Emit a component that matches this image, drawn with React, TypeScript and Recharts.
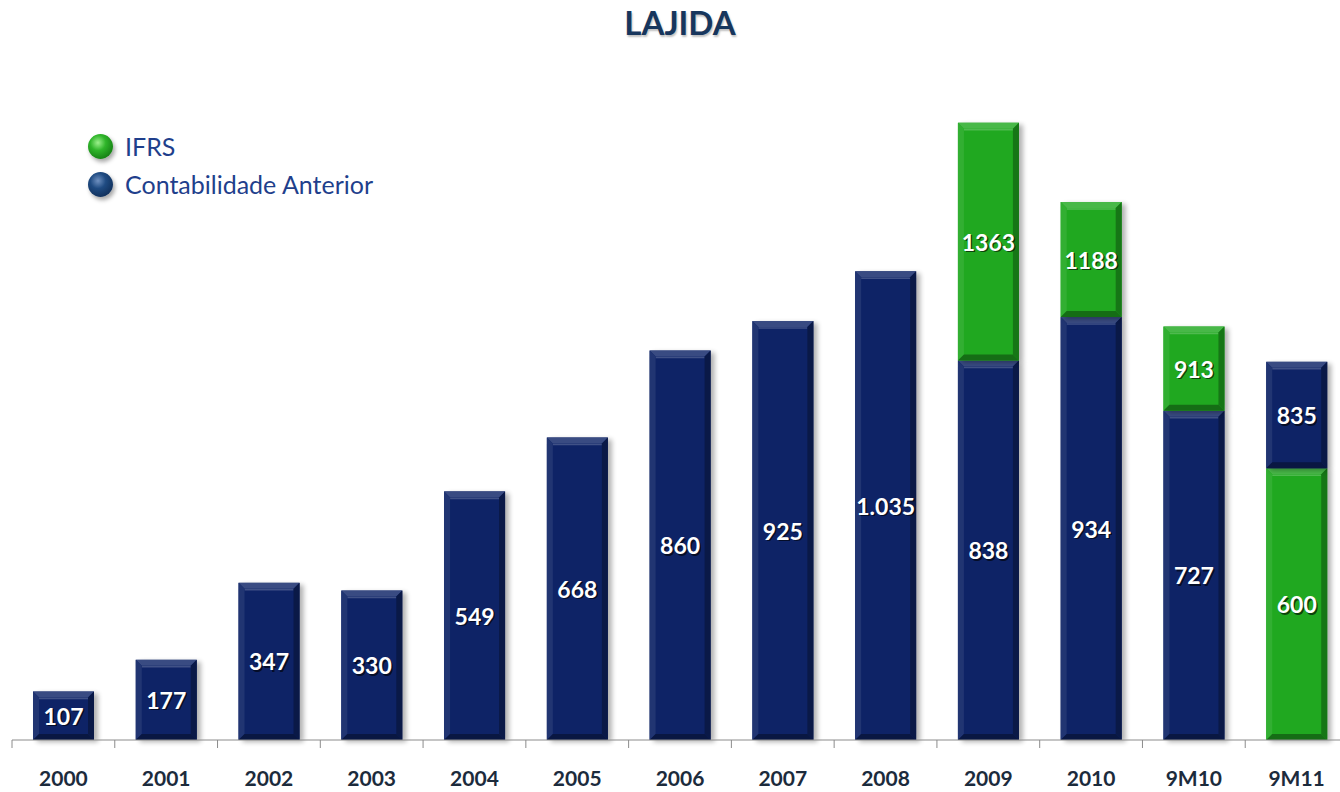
import { BarChart, Bar, XAxis, YAxis, LabelList } from "recharts";

const categories = ["2000", "2001", "2002", "2003", "2004", "2005", "2006", "2007", "2008", "2009", "2010", "9M10", "9M11"];
const contabilidade = [107, 177, 347, 330, 549, 668, 860, 925, 1035, 838, 934, 727, 835];
const ifrs: (number | null)[] = [null, null, null, null, null, null, null, null, null, 1363, 1188, 913, 600];

const CHART_W = 1348;
const CHART_H = 792;
const MARGIN = { top: 106, right: 0, left: 12, bottom: 0 };
const AXIS_H = 52;
const AXIS_Y = CHART_H - AXIS_H;
const STEP = (CHART_W - MARGIN.left - MARGIN.right) / categories.length;

const NAVY = "#0e2366";
const GREEN = "#20a820";

const fmtNavy = (v: number) =>
  v >= 1000 ? `${Math.floor(v / 1000)}.${String(v % 1000).padStart(3, "0")}` : String(v);

// the smaller value sits at the bottom of the stack, the difference on top
const rows = categories.map((name, i) => {
  const c = contabilidade[i];
  const f = ifrs[i];
  const greenBelow = f != null && f < c;
  const greenAbove = f != null && f > c;
  return {
    name,
    navyLow: greenBelow ? 0 : c,
    greenLow: greenBelow ? (f as number) : 0,
    greenTop: greenAbove ? (f as number) - c : 0,
    navyTop: greenBelow ? c - (f as number) : 0,
    navyLowLabel: greenBelow ? "" : fmtNavy(c),
    greenLowLabel: greenBelow ? String(f) : "",
    greenTopLabel: greenAbove ? String(f) : "",
    navyTopLabel: greenBelow ? fmtNavy(c) : "",
  };
});

const shade = (hex: string, amt: number) => {
  const n = parseInt(hex.slice(1), 16);
  const ch = (s: number) => {
    const v = (n >> s) & 255;
    const r = amt >= 0 ? v + (255 - v) * amt : v * (1 + amt);
    return Math.round(Math.max(0, Math.min(255, r)));
  };
  return `rgb(${ch(16)},${ch(8)},${ch(0)})`;
};

const BevelBar = (props: any) => {
  const { x, y, width: w, height: h, fill } = props;
  if (!h || h <= 0) return null;
  const b = 6;
  return (
    <g>
      <rect x={x + 4} y={y + 2} width={w} height={h} fill="#000" opacity={0.3} filter="url(#barShadow)" />
      <rect x={x} y={y} width={w} height={h} fill={fill} />
      <polygon points={`${x},${y} ${x + w},${y} ${x + w - b},${y + b} ${x + b},${y + b}`} fill={shade(fill, 0.18)} />
      <line x1={x + b} x2={x + w - b} y1={y + b + 1} y2={y + b + 1} stroke={shade(fill, 0.3)} strokeWidth={1.5} opacity={0.7} />
      <polygon points={`${x},${y} ${x + b},${y + b} ${x + b},${y + h - b} ${x},${y + h}`} fill={shade(fill, 0.08)} />
      <polygon points={`${x + w},${y} ${x + w - b},${y + b} ${x + w - b},${y + h - b} ${x + w},${y + h}`} fill={shade(fill, -0.3)} />
      <polygon points={`${x},${y + h} ${x + b},${y + h - b} ${x + w - b},${y + h - b} ${x + w},${y + h}`} fill={shade(fill, -0.35)} />
    </g>
  );
};

const renderLabel = (props: any) => {
  const { x, y, width, height, value } = props;
  if (!value) return null;
  const cx = x + width / 2;
  const cy = y + height / 2;
  const common = {
    textAnchor: "middle" as const,
    dominantBaseline: "central" as const,
    fontFamily: "Lato, sans-serif",
    fontWeight: 700,
    fontSize: 23,
  };
  return (
    <g>
      <text x={cx + 1.5} y={cy + 1.5} fill="#000" opacity={0.6} {...common}>{value}</text>
      <text x={cx} y={cy} fill="#ffffff" {...common}>{value}</text>
    </g>
  );
};

const CategoryTick = (props: any) => {
  const { x, payload } = props;
  const left = x - STEP / 2;
  return (
    <g>
      <line x1={left} x2={left} y1={AXIS_Y} y2={AXIS_Y + 8} stroke="#8c8c8c" />
      <text
        x={x}
        y={AXIS_Y + 37}
        textAnchor="middle"
        dominantBaseline="central"
        fontFamily="Lato, sans-serif"
        fontWeight={700}
        fontSize={21}
        fill="#1c2b3c"
      >
        {payload.value}
      </text>
    </g>
  );
};

const Sphere = ({ color }: { color: "green" | "navy" }) => {
  const bg =
    color === "green"
      ? "radial-gradient(circle at 40% 35%, #9cf08c 0%, #2fb52a 35%, #137a12 80%, #0b4f0b 100%)"
      : "radial-gradient(circle at 40% 35%, #6f90c0 0%, #1f4b82 35%, #0f2d57 80%, #081a36 100%)";
  return (
    <span
      style={{
        display: "inline-block",
        width: 25,
        height: 25,
        borderRadius: "50%",
        background: bg,
        boxShadow: "2px 3px 4px rgba(0,0,0,0.35)",
        marginRight: 12,
        flex: "none",
      }}
    />
  );
};

export default function App() {
  return (
    <div
      style={{
        position: "absolute",
        left: 0,
        top: 0,
        width: 1340,
        height: 792,
        overflow: "hidden",
        background: "#fff",
      }}
    >
      <div
        style={{
          position: "absolute",
          top: 2,
          left: 0,
          width: 1360,
          textAlign: "center",
          fontFamily: "Lato, sans-serif",
          fontWeight: 700,
          fontSize: 33,
          color: "#17365d",
          textShadow: "1px 2px 2px rgba(0,0,0,0.25)",
        }}
      >
        LAJIDA
      </div>

      <div
        style={{
          position: "absolute",
          left: 88,
          top: 127,
          fontFamily: "Lato, sans-serif",
          fontSize: 25,
          color: "#1f3f8c",
          lineHeight: "38px",
        }}
      >
        <div style={{ display: "flex", alignItems: "center" }}>
          <Sphere color="green" />
          IFRS
        </div>
        <div style={{ display: "flex", alignItems: "center" }}>
          <Sphere color="navy" />
          Contabilidade Anterior
        </div>
      </div>

      <BarChart width={CHART_W} height={CHART_H} data={rows} margin={MARGIN} barSize={61} barCategoryGap={0}>
        <defs>
          <filter id="barShadow" x="-20%" y="-20%" width="140%" height="140%">
            <feGaussianBlur stdDeviation="2.5" />
          </filter>
        </defs>
        <XAxis
          dataKey="name"
          height={AXIS_H}
          axisLine={{ stroke: "#8c8c8c", strokeWidth: 1 }}
          tickLine={false}
          tick={<CategoryTick />}
          interval={0}
        />
        <YAxis hide domain={[0, 1400]} />
        <Bar dataKey="navyLow" stackId="a" fill={NAVY} shape={<BevelBar />} isAnimationActive={false}>
          <LabelList dataKey="navyLowLabel" content={renderLabel} />
        </Bar>
        <Bar dataKey="greenLow" stackId="a" fill={GREEN} shape={<BevelBar />} isAnimationActive={false}>
          <LabelList dataKey="greenLowLabel" content={renderLabel} />
        </Bar>
        <Bar dataKey="greenTop" stackId="a" fill={GREEN} shape={<BevelBar />} isAnimationActive={false}>
          <LabelList dataKey="greenTopLabel" content={renderLabel} />
        </Bar>
        <Bar dataKey="navyTop" stackId="a" fill={NAVY} shape={<BevelBar />} isAnimationActive={false}>
          <LabelList dataKey="navyTopLabel" content={renderLabel} />
        </Bar>
      </BarChart>
    </div>
  );
}
